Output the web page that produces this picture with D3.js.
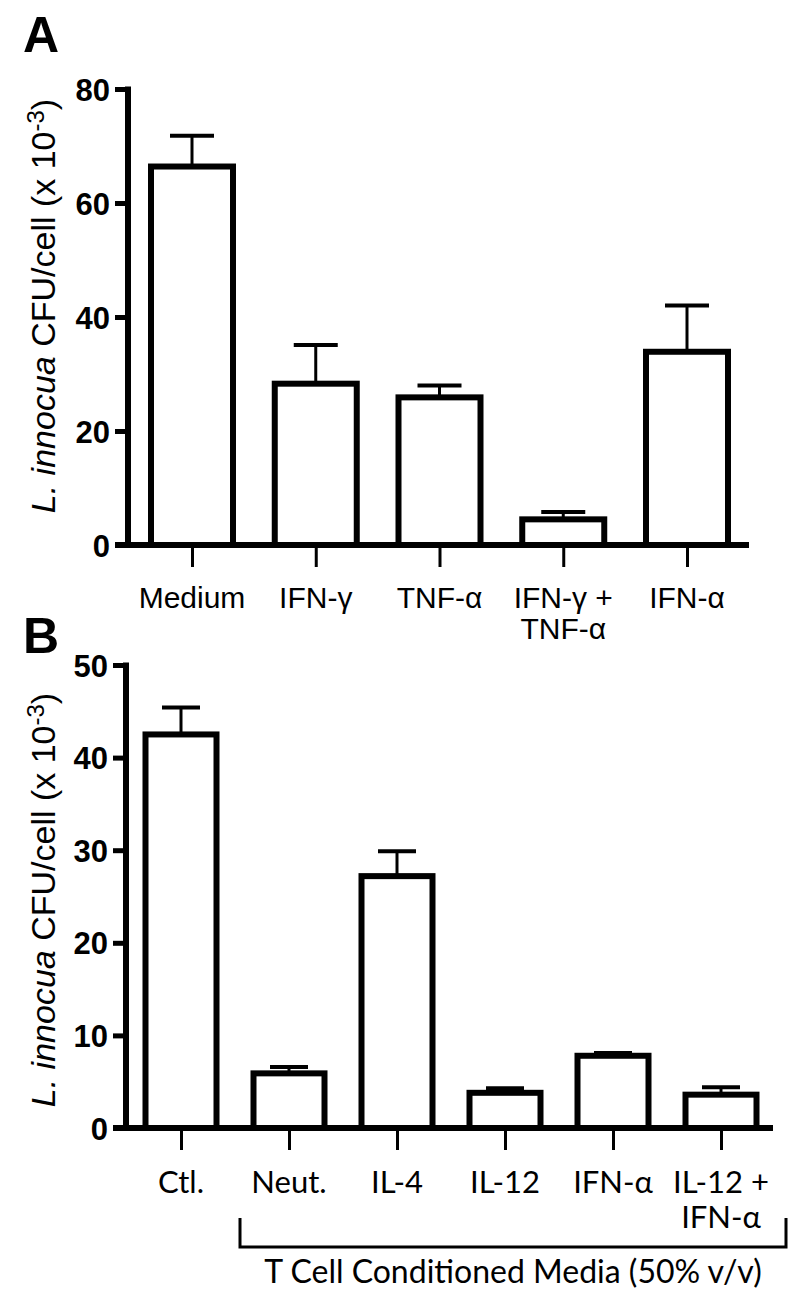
<!DOCTYPE html>
<html><head><meta charset="utf-8">
<script src="https://cdn.jsdelivr.net/npm/d3@7"></script>
<style>body{margin:0;background:#fff}</style>
</head><body>
<svg id="chart" width="800" height="1301"></svg>
<script>
// ---- Panel A data ----
const catsA = ["Medium", "IFN-γ", "TNF-α", "IFN-γ +|TNF-α", "IFN-α"];
const valsA = [66.4, 28.3, 25.9, 4.5, 33.9];
const errsA = [5.4, 6.8, 2.1, 1.3, 8.1];
const ticksA = [0, 20, 40, 60, 80];

// ---- Panel B data ----
const catsB = ["Ctl.", "Neut.", "IL-4", "IL-12", "IFN-α", "IL-12 +|IFN-α"];
const valsB = [42.5, 5.9, 27.2, 3.8, 7.8, 3.6];
const errsB = [2.9, 0.7, 2.7, 0.5, 0.3, 0.8];
const ticksB = [0, 10, 20, 30, 40, 50];
const groupLabelB = "T Cell Conditioned Media (50% v/v)";

const svg = d3.select("#chart");
const ARIAL = "'Liberation Sans', Arial, Helvetica, sans-serif";
const LBLB = "Lato, 'Open Sans', sans-serif";

function panel(cfg) {
  const g = svg.append("g");
  const x = d3.scalePoint().domain(cfg.cats).range(cfg.xr);
  const y = d3.scaleLinear().domain([0, d3.max(cfg.ticks)]).range(cfg.yr);
  const data = cfg.cats.map((c, i) => ({c, v: cfg.vals[i], e: cfg.errs[i]}));

  // error bars
  g.selectAll(".stem").data(data).join("line")
    .attr("x1", d => x(d.c)).attr("x2", d => x(d.c))
    .attr("y1", d => y(d.v)).attr("y2", d => y(d.v + d.e))
    .attr("stroke", "#000").attr("stroke-width", 3);
  g.selectAll(".cap").data(data).join("line")
    .attr("x1", d => x(d.c) - cfg.capW / 2).attr("x2", d => x(d.c) + cfg.capW / 2)
    .attr("y1", d => y(d.v + d.e)).attr("y2", d => y(d.v + d.e))
    .attr("stroke", "#000").attr("stroke-width", 4);

  // bars
  g.selectAll(".bar").data(data).join("rect")
    .attr("x", d => x(d.c) - cfg.barW / 2)
    .attr("width", cfg.barW)
    .attr("y", d => y(d.v))
    .attr("height", d => y(0) - y(d.v))
    .attr("fill", "#fff").attr("stroke", "#000").attr("stroke-width", 6);

  // y axis
  const ya = g.append("g").attr("transform", `translate(${cfg.axX},0)`)
    .call(d3.axisLeft(y).tickValues(cfg.ticks).tickSize(13).tickSizeOuter(0).tickPadding(5));
  ya.select(".domain").remove();
  ya.append("line").attr("x1", 0).attr("x2", 0)
    .attr("y1", y(0)).attr("y2", y(d3.max(cfg.ticks)) - 2.5)
    .attr("stroke", "#000").attr("stroke-width", 6);
  ya.selectAll(".tick line").attr("stroke", "#000").attr("stroke-width", 5);
  ya.selectAll(".tick text").attr("fill", "#000")
    .style("font-family", ARIAL).style("font-weight", "bold").style("font-size", "31px")
    .attr("dy", "0.36em");

  // x axis
  const xa = g.append("g").attr("transform", `translate(0,${y(0)})`)
    .call(d3.axisBottom(x).tickSize(22).tickSizeOuter(0).tickFormat(""));
  xa.select(".domain").remove();
  xa.selectAll(".tick line").attr("stroke", "#000").attr("stroke-width", 3);
  xa.append("line").attr("x1", cfg.axX - 13).attr("x2", cfg.xEnd)
    .attr("y1", 0).attr("y2", 0).attr("stroke", "#000").attr("stroke-width", 6);

  // x category labels
  const lab = g.selectAll(".xl").data(cfg.cats).join("text")
    .attr("x", d => x(d)).attr("y", cfg.lblY)
    .attr("text-anchor", "middle")
    .style("font-family", cfg.lblFont).style("font-size", cfg.lblSize + "px").attr("fill", "#000");
  lab.each(function(d) {
    const parts = d.split("|");
    d3.select(this).selectAll("tspan").data(parts).join("tspan")
      .attr("x", x(d)).attr("dy", (p, i) => i === 0 ? 0 : cfg.lineH).text(p => p);
  });

  // y title
  const t = g.append("text")
    .attr("transform", `translate(${cfg.titleX},${cfg.titleY}) rotate(-90)`)
    .attr("text-anchor", "middle")
    .style("font-family", ARIAL).style("font-size", "34px").attr("fill", "#000");
  t.append("tspan").style("font-style", "italic").text("L. innocua");
  t.append("tspan").text(" CFU/cell (x 10");
  t.append("tspan").attr("dy", "-0.45em").style("font-size", "24px").text("-3");
  t.append("tspan").attr("dy", "0.32em").text(")");

  // panel letter
  g.append("text").attr("x", cfg.letterX).attr("y", cfg.letterY)
    .style("font-family", ARIAL).style("font-weight", "bold").style("font-size", "50px")
    .attr("fill", "#000").text(cfg.letter);
  return {x, y, g};
}

panel({
  cats: catsA, vals: valsA, errs: errsA, ticks: ticksA,
  xr: [192, 687], yr: [545, 89], axX: 128, xEnd: 749,
  barW: 82, capW: 44, lblY: 608, lineH: 31, lblSize: 30, lblFont: ARIAL,
  titleX: 55, titleY: 306, letter: "A", letterX: 23, letterY: 52
});

const pB = panel({
  cats: catsB, vals: valsB, errs: errsB, ticks: ticksB,
  xr: [181, 721], yr: [1128, 665], axX: 126, xEnd: 773,
  barW: 71, capW: 38, lblY: 1193, lineH: 35, lblSize: 31, lblFont: LBLB,
  titleX: 55, titleY: 900, letter: "B", letterX: 23, letterY: 653
});

// bracket for T cell conditioned media group
const bx0 = 240, bx1 = 786, byTop = 1218, byBot = 1247;
pB.g.append("path")
  .attr("d", `M${bx0},${byTop}V${byBot}H${bx1}V${byTop}`)
  .attr("fill", "none").attr("stroke", "#000").attr("stroke-width", 3);
pB.g.append("text").attr("x", (bx0 + bx1) / 2).attr("y", 1283)
  .attr("text-anchor", "middle")
  .style("font-family", LBLB).style("font-size", "32px").attr("fill", "#000")
  .text(groupLabelB);
</script>
</body></html>
